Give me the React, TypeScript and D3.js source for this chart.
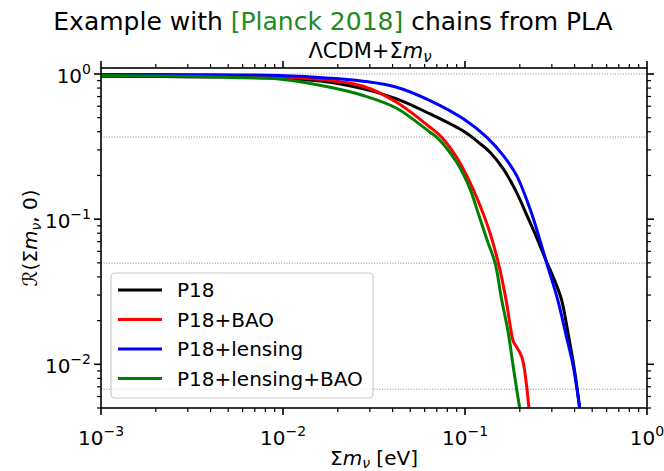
import React from "react";
import * as d3 from "d3";

const W = 664;
const H = 471;
const PLOT = { left: 101, right: 647, top: 68, bottom: 408 };

const X_DOMAIN = [1e-3, 1];
const Y_DOMAIN = [5e-3, 1.1];

const xMajorExps = [-3, -2, -1, 0];
const yMajorExps = [-2, -1, 0];
const refLevels = [1, 0.3679, 0.0498, 0.00674];

const seriesNames = ["P18", "P18+BAO", "P18+lensing", "P18+lensing+BAO"];
const seriesColors = ["#000000", "#ff0000", "#0000ff", "#008000"];

// P18
const mnuP18 = [0.001, 0.0035, 0.00947, 0.01812, 0.02763, 0.04211, 0.06423, 0.0979, 0.1209, 0.1372, 0.1624, 0.1923, 0.2192, 0.2424, 0.2822, 0.3143, 0.3391, 0.3681, 0.3971, 0.428];
const rP18 = [0.966, 0.955, 0.935, 0.878, 0.790, 0.674, 0.531, 0.4045, 0.3317, 0.289, 0.2218, 0.1525, 0.1057, 0.0794, 0.0501, 0.0365, 0.0279, 0.0165, 0.00961, 0.00485];

// P18+BAO
const mnuBAO = [0.001, 0.0035, 0.0095, 0.01812, 0.02763, 0.04211, 0.06423, 0.07443, 0.08999, 0.1065, 0.1272, 0.1372, 0.1525, 0.168, 0.1775, 0.1843, 0.1938, 0.2048, 0.2109, 0.2183, 0.225];
const rBAO = [0.987, 0.975, 0.956, 0.902, 0.824, 0.639, 0.430, 0.367, 0.2668, 0.1794, 0.1057, 0.0803, 0.0499, 0.0279, 0.01823, 0.01436, 0.01294, 0.01132, 0.00966, 0.00703, 0.00485];

// P18+lensing
const mnuLens = [0.001, 0.0035, 0.0095, 0.01812, 0.02763, 0.04211, 0.06423, 0.0979, 0.1315, 0.1624, 0.1923, 0.2325, 0.2566, 0.281, 0.323, 0.3588, 0.3946, 0.428];
const rLens = [0.993, 0.99, 0.975, 0.936, 0.892, 0.811, 0.656, 0.491, 0.367, 0.274, 0.1995, 0.1091, 0.0734, 0.0499, 0.0279, 0.01597, 0.00946, 0.00485];

// P18+lensing+BAO
const mnuLensBAO = [0.001, 0.0035, 0.00603, 0.0095, 0.01812, 0.02763, 0.04211, 0.06423, 0.06988, 0.08999, 0.1065, 0.1179, 0.1321, 0.1463, 0.159, 0.173, 0.184, 0.2004];
const rLensBAO = [0.976, 0.961, 0.942, 0.925, 0.811, 0.711, 0.581, 0.397, 0.367, 0.2465, 0.1615, 0.1109, 0.0722, 0.0499, 0.0279, 0.0164, 0.00966, 0.00485];

const seriesX = [mnuP18, mnuBAO, mnuLens, mnuLensBAO];
const seriesY = [rP18, rBAO, rLens, rLensBAO];

const FONT = "DejaVu Sans, sans-serif";

function Pow10({ x, y, exp, anchor }: { x: number; y: number; exp: number; anchor: string }) {
  const e = exp < 0 ? "\u2212" + Math.abs(exp) : String(exp);
  return (
    <text x={x} y={y} textAnchor={anchor} fontFamily={FONT} fontSize={20} fill="#000">
      10
      <tspan dy={-9} fontSize={14}>{e}</tspan>
    </text>
  );
}

export default function App() {
  const x = d3.scaleLog().domain(X_DOMAIN).range([PLOT.left, PLOT.right]);
  const y = d3.scaleLog().domain(Y_DOMAIN).range([PLOT.bottom, PLOT.top]);

  const line = d3
    .line<[number, number]>()
    .x((d) => x(d[0]))
    .y((d) => y(d[1]))
    .curve(d3.curveCatmullRom.alpha(0.5));

  const xMinor: number[] = [];
  for (let e = -3; e < 0; e++) for (let k = 2; k <= 9; k++) xMinor.push(k * Math.pow(10, e));
  const yMinor: number[] = [];
  for (let e = -3; e < 1; e++)
    for (let k = 2; k <= 9; k++) {
      const v = k * Math.pow(10, e);
      if (v >= Y_DOMAIN[0] && v <= Y_DOMAIN[1]) yMinor.push(v);
    }

  const MAJ = 7;
  const MIN = 4;
  const tickColor = "#000";

  return (
    <svg
      width={W}
      height={H}
      viewBox={`0 0 ${W} ${H}`}
      style={{ position: "fixed", left: 0, top: 0, background: "#fff" }}
    >
      <rect x={0} y={0} width={W} height={H} fill="#fff" />
      <defs>
        <clipPath id="plotclip">
          <rect x={PLOT.left} y={PLOT.top} width={PLOT.right - PLOT.left} height={PLOT.bottom - PLOT.top} />
        </clipPath>
      </defs>

      {/* Titles */}
      <text x={333} y={30} textAnchor="middle" fontFamily={FONT} fontSize={25} fill="#000">
        Example with <tspan fill="#228b22">[Planck 2018]</tspan> chains from PLA
      </text>
      <text x={(PLOT.left + PLOT.right) / 2 - 4} y={58} textAnchor="middle" fontFamily={FONT} fontSize={21} fill="#000">
        ΛCDM+Σ<tspan fontStyle="italic">m</tspan>
        <tspan fontStyle="italic" fontSize={15} dy={4}>ν</tspan>
      </text>

      {/* reference levels */}
      {refLevels.map((v, i) => (
        <line
          key={"ref" + i}
          x1={PLOT.left}
          x2={PLOT.right}
          y1={y(v)}
          y2={y(v)}
          stroke="#808080"
          strokeWidth={1}
          strokeDasharray="1 1.65"
        />
      ))}

      {/* curves */}
      <g clipPath="url(#plotclip)">
        {seriesX.map((xs, i) => (
          <path
            key={"s" + i}
            d={line(xs.map((v, j) => [v, seriesY[i][j]] as [number, number])) || ""}
            fill="none"
            stroke={seriesColors[i]}
            strokeWidth={3}
            strokeLinejoin="round"
          />
        ))}
      </g>

      {/* frame */}
      <rect
        x={PLOT.left}
        y={PLOT.top}
        width={PLOT.right - PLOT.left}
        height={PLOT.bottom - PLOT.top}
        fill="none"
        stroke="#000"
        strokeWidth={1.6}
      />

      {/* x ticks (bottom & top, outward) */}
      {xMajorExps.map((e) => {
        const px = x(Math.pow(10, e));
        return (
          <g key={"xM" + e}>
            <line x1={px} x2={px} y1={PLOT.bottom} y2={PLOT.bottom + MAJ} stroke={tickColor} strokeWidth={1.6} />
            <line x1={px} x2={px} y1={PLOT.top} y2={PLOT.top - MAJ} stroke={tickColor} strokeWidth={1.6} />
            <Pow10 x={px} y={PLOT.bottom + 37} exp={e} anchor="middle" />
          </g>
        );
      })}
      {xMinor.map((v, i) => {
        const px = x(v);
        return (
          <g key={"xm" + i}>
            <line x1={px} x2={px} y1={PLOT.bottom} y2={PLOT.bottom + MIN} stroke={tickColor} strokeWidth={1.2} />
            <line x1={px} x2={px} y1={PLOT.top} y2={PLOT.top - MIN} stroke={tickColor} strokeWidth={1.2} />
          </g>
        );
      })}

      {/* y ticks (left & right, outward) */}
      {yMajorExps.map((e) => {
        const py = y(Math.pow(10, e));
        return (
          <g key={"yM" + e}>
            <line x1={PLOT.left} x2={PLOT.left - MAJ} y1={py} y2={py} stroke={tickColor} strokeWidth={1.6} />
            <line x1={PLOT.right} x2={PLOT.right + MAJ} y1={py} y2={py} stroke={tickColor} strokeWidth={1.6} />
            <Pow10 x={PLOT.left - 10} y={py + 9} exp={e} anchor="end" />
          </g>
        );
      })}
      {yMinor.map((v, i) => {
        const py = y(v);
        return (
          <g key={"ym" + i}>
            <line x1={PLOT.left} x2={PLOT.left - MIN} y1={py} y2={py} stroke={tickColor} strokeWidth={1.2} />
            <line x1={PLOT.right} x2={PLOT.right + MIN} y1={py} y2={py} stroke={tickColor} strokeWidth={1.2} />
          </g>
        );
      })}

      {/* axis labels */}
      <text x={(PLOT.left + PLOT.right) / 2} y={465} textAnchor="middle" fontFamily={FONT} fontSize={20} fill="#000">
        Σ<tspan fontStyle="italic">m</tspan>
        <tspan fontStyle="italic" fontSize={14} dy={3}>ν</tspan>
        <tspan dy={-3}> [eV]</tspan>
      </text>
      <text
        transform={`translate(37, ${(PLOT.top + PLOT.bottom) / 2}) rotate(-90)`}
        textAnchor="middle"
        fontFamily={FONT}
        fontSize={20}
        fill="#000"
      >
        <tspan fontStyle="italic">ℛ</tspan>(Σ<tspan fontStyle="italic">m</tspan>
        <tspan fontStyle="italic" fontSize={14} dy={4}>ν</tspan>
        <tspan dy={-4}>, 0)</tspan>
      </text>

      {/* legend */}
      <g>
        <rect x={111} y={273} width={262} height={125} rx={4} ry={4} fill="#fff" fillOpacity={0.8} stroke="#cccccc" strokeWidth={1.2} />
        {seriesNames.map((name, i) => {
          const cy = 290 + i * 29.5;
          return (
            <g key={"lg" + i}>
              <line x1={118} x2={162} y1={cy} y2={cy} stroke={seriesColors[i]} strokeWidth={3} />
              <text x={177} y={cy + 7} fontFamily={FONT} fontSize={20} fill="#000">
                {name}
              </text>
            </g>
          );
        })}
      </g>
    </svg>
  );
}
